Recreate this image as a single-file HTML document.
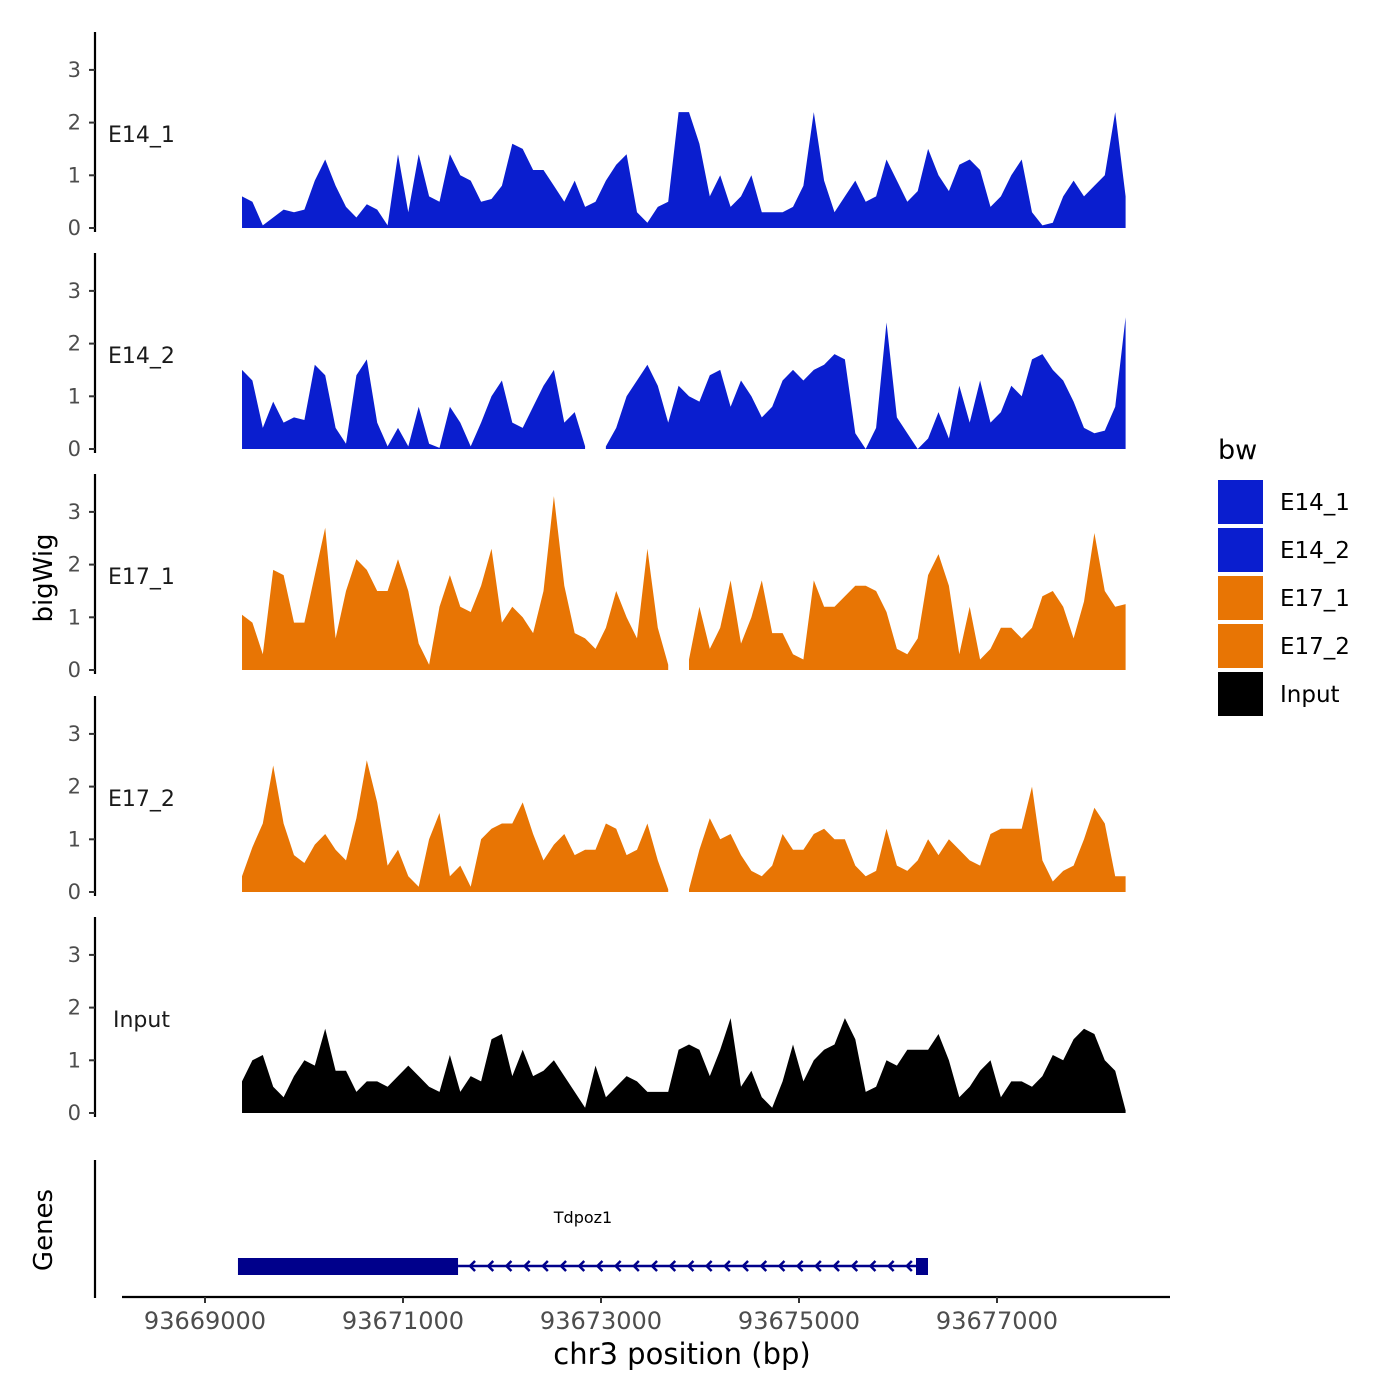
<!DOCTYPE html>
<html><head><meta charset="utf-8"><style>
body{margin:0;background:#fff;}
svg{display:block;font-family:"DejaVu Sans","Liberation Sans",sans-serif;}
</style></head><body>
<svg id="chart" width="1400" height="1400" viewBox="0 0 1400 1400" xmlns="http://www.w3.org/2000/svg">
<text x="0" y="0" font-size="26" text-anchor="middle" transform="translate(52,578) rotate(-90)">bigWig</text>
<text x="0" y="0" font-size="26" text-anchor="middle" transform="translate(52,1230) rotate(-90)">Genes</text>
<text x="682" y="1364" font-size="29" text-anchor="middle">chr3 position (bp)</text>
<g id="tracks"></g>
<g id="genes"></g>
<g id="xaxis"></g>
<g id="legend"></g>
</svg>
<script>
const trackNames = ["E14_1","E14_2","E17_1","E17_2","Input"];
const trackColors = ["#0a1ecf","#0a1ecf","#e87504","#e87504","#000000"];
const binStart = 93669374;
const binStep = 105;
const e14_1 = [0.6,0.5,0.05,0.2,0.35,0.3,0.35,0.9,1.3,0.8,0.4,0.2,0.45,0.35,0.05,1.4,0.3,1.4,0.6,0.5,1.4,1.0,0.9,0.5,0.55,0.8,1.6,1.5,1.1,1.1,0.8,0.5,0.9,0.4,0.5,0.9,1.2,1.4,0.3,0.1,0.4,0.5,2.2,2.2,1.6,0.6,1.0,0.4,0.6,1.0,0.3,0.3,0.3,0.4,0.8,2.2,0.9,0.3,0.6,0.9,0.5,0.6,1.3,0.9,0.5,0.7,1.5,1.0,0.7,1.2,1.3,1.1,0.4,0.6,1.0,1.3,0.3,0.05,0.1,0.6,0.9,0.6,0.8,1.0,2.2,0.6];
const e14_2 = [1.5,1.3,0.4,0.9,0.5,0.6,0.55,1.6,1.4,0.4,0.1,1.4,1.7,0.5,0.05,0.4,0.05,0.8,0.1,0.02,0.8,0.5,0.05,0.5,1.0,1.3,0.5,0.4,0.8,1.2,1.5,0.5,0.7,0.05,null,0.05,0.4,1.0,1.3,1.6,1.2,0.5,1.2,1.0,0.9,1.4,1.5,0.8,1.3,1.0,0.6,0.8,1.3,1.5,1.3,1.5,1.6,1.8,1.7,0.3,0,0.4,2.4,0.6,0.3,0,0.2,0.7,0.2,1.2,0.5,1.3,0.5,0.7,1.2,1.0,1.7,1.8,1.5,1.3,0.9,0.4,0.3,0.35,0.8,2.5];
const e17_1 = [1.05,0.9,0.3,1.9,1.8,0.9,0.9,1.8,2.7,0.6,1.5,2.1,1.9,1.5,1.5,2.1,1.5,0.5,0.1,1.2,1.8,1.2,1.1,1.6,2.3,0.9,1.2,1.0,0.7,1.5,3.3,1.6,0.7,0.6,0.4,0.8,1.5,1.0,0.6,2.3,0.8,0.1,null,0.2,1.2,0.4,0.8,1.7,0.5,1.0,1.7,0.7,0.7,0.3,0.2,1.7,1.2,1.2,1.4,1.6,1.6,1.5,1.1,0.4,0.3,0.6,1.8,2.2,1.6,0.3,1.2,0.2,0.4,0.8,0.8,0.6,0.8,1.4,1.5,1.2,0.6,1.3,2.6,1.5,1.2,1.25];
const e17_2 = [0.3,0.85,1.3,2.4,1.3,0.7,0.55,0.9,1.1,0.8,0.6,1.4,2.5,1.7,0.5,0.8,0.3,0.1,1.0,1.5,0.3,0.5,0.1,1.0,1.2,1.3,1.3,1.7,1.1,0.6,0.9,1.1,0.7,0.8,0.8,1.3,1.2,0.7,0.8,1.3,0.6,0.05,null,0.05,0.8,1.4,1.0,1.1,0.7,0.4,0.3,0.5,1.1,0.8,0.8,1.1,1.2,1.0,1.0,0.5,0.3,0.4,1.2,0.5,0.4,0.6,1.0,0.7,1.0,0.8,0.6,0.5,1.1,1.2,1.2,1.2,2.0,0.6,0.2,0.4,0.5,1.0,1.6,1.3,0.3,0.3];
const inputVals = [0.6,1.0,1.1,0.5,0.3,0.7,1.0,0.9,1.6,0.8,0.8,0.4,0.6,0.6,0.5,0.7,0.9,0.7,0.5,0.4,1.1,0.4,0.7,0.6,1.4,1.5,0.7,1.2,0.7,0.8,1.0,0.7,0.4,0.1,0.9,0.3,0.5,0.7,0.6,0.4,0.4,0.4,1.2,1.3,1.2,0.7,1.2,1.8,0.5,0.8,0.3,0.1,0.6,1.3,0.6,1.0,1.2,1.3,1.8,1.4,0.4,0.5,1.0,0.9,1.2,1.2,1.2,1.5,1.0,0.3,0.5,0.8,1.0,0.3,0.6,0.6,0.5,0.7,1.1,1.0,1.4,1.6,1.5,1.0,0.8,0.05];
const yTicks = [0,1,2,3];
const xTicks = [93669000,93671000,93673000,93675000,93677000];
const geneName = "Tdpoz1";
const geneStart = 93669333, geneThickEnd = 93671556, geneEnd = 93676303;

const series = [e14_1,e14_2,e17_1,e17_2,inputVals];
const NS = "http://www.w3.org/2000/svg";
const xScale = bp => 205 + (bp - 93669000) * 0.099;
const zeroYs = [228,449,670,892,1113];
const unit = 52.7;
function mk(tag, attrs, parent){const e=document.createElementNS(NS,tag);for(const k in attrs)e.setAttribute(k,attrs[k]);parent.appendChild(e);return e;}

const tracks = document.getElementById('tracks');
series.forEach((vals, t) => {
  const z = zeroYs[t];
  const yS = v => z - v * unit;
  const g = mk('g',{},tracks);
  
  
  const ax = mk('line',{x1:95,x2:95,y1:z-196,y2:z+4,stroke:'#000','stroke-width':2.2},g);
  
  
  yTicks.forEach(v => {
    const tk = mk('line',{x1:89,x2:95,y1:yS(v),y2:yS(v),stroke:'#333','stroke-width':2},g);
    
    
    const tl = mk('text',{x:81,y:yS(v)+7,'font-size':21,fill:'#4d4d4d','text-anchor':'end'},g);
    tl.textContent = v;
    
    
  });
  let seg = [];
  const segs = [];
  vals.forEach((v,i) => {
    if (v === null) { if (seg.length) segs.push(seg); seg = []; }
    else seg.push([xScale(binStart + i*binStep), yS(v)]);
  });
  if (seg.length) segs.push(seg);
  segs.forEach(s => {
    let d = 'M' + s[0][0] + ',' + z;
    s.forEach(p => { d += ' L' + p[0].toFixed(1) + ',' + p[1].toFixed(1); });
    d += ' L' + s[s.length-1][0] + ',' + z + ' Z';
    const p = mk('path',{d:d,fill:trackColors[t]},g);
    
    
  });
  const lb = mk('text',{x:trackNames[t]==='Input'?113:108,y:z-86,'font-size':22,fill:'#1a1a1a'},g);
  lb.textContent = trackNames[t];
  
  
});

const gg = document.getElementById('genes');
const gax = mk('line',{x1:95,x2:95,y1:1160,y2:1298,stroke:'#000','stroke-width':2.2},gg);


const gx0 = xScale(geneStart), gx1 = xScale(geneThickEnd), gx2 = xScale(geneEnd);
const gl = mk('line',{x1:gx1,x2:gx2,y1:1266,y2:1266,stroke:'#00008b','stroke-width':2.5},gg);


for (let x = gx1 + 12; x < gx2 - 8; x += 18.2) {
  const a = mk('path',{d:`M${x+5},1261 L${x},1266 L${x+5},1271`,fill:'none',stroke:'#00008b','stroke-width':2.5},gg);
  
  
}
const gb = mk('rect',{x:gx0,y:1258,width:gx1-gx0,height:17,fill:'#00008b'},gg);


const gb2 = mk('rect',{x:gx2-12,y:1258,width:12,height:17,fill:'#00008b'},gg);


const gn = mk('text',{x:583,y:1223,'font-size':16,'text-anchor':'middle',fill:'#000'},gg);
gn.textContent = geneName;



const xa = document.getElementById('xaxis');
const xl = mk('line',{x1:122,x2:1170,y1:1297,y2:1297,stroke:'#000','stroke-width':2.2},xa);


xTicks.forEach(b => {
  const x = xScale(b);
  const t = mk('line',{x1:x,x2:x,y1:1297,y2:1303,stroke:'#333','stroke-width':2},xa);
  
  
  const tl = mk('text',{x:x,y:1329,'font-size':24,fill:'#4d4d4d','text-anchor':'middle'},xa);
  tl.textContent = b;
  
  
});

const lg = document.getElementById('legend');
const lt = mk('text',{x:1218,y:459,'font-size':27,fill:'#000'},lg);
lt.textContent = 'bw';


trackNames.forEach((n,i) => {
  const y = 480 + i*48;
  const r = mk('rect',{x:1218,y:y,width:45,height:44,fill:trackColors[i]},lg);
  
  
  const t = mk('text',{x:1280,y:y+30,'font-size':23,fill:'#000'},lg);
  t.textContent = n;
  
  
});
</script>
</body></html>
